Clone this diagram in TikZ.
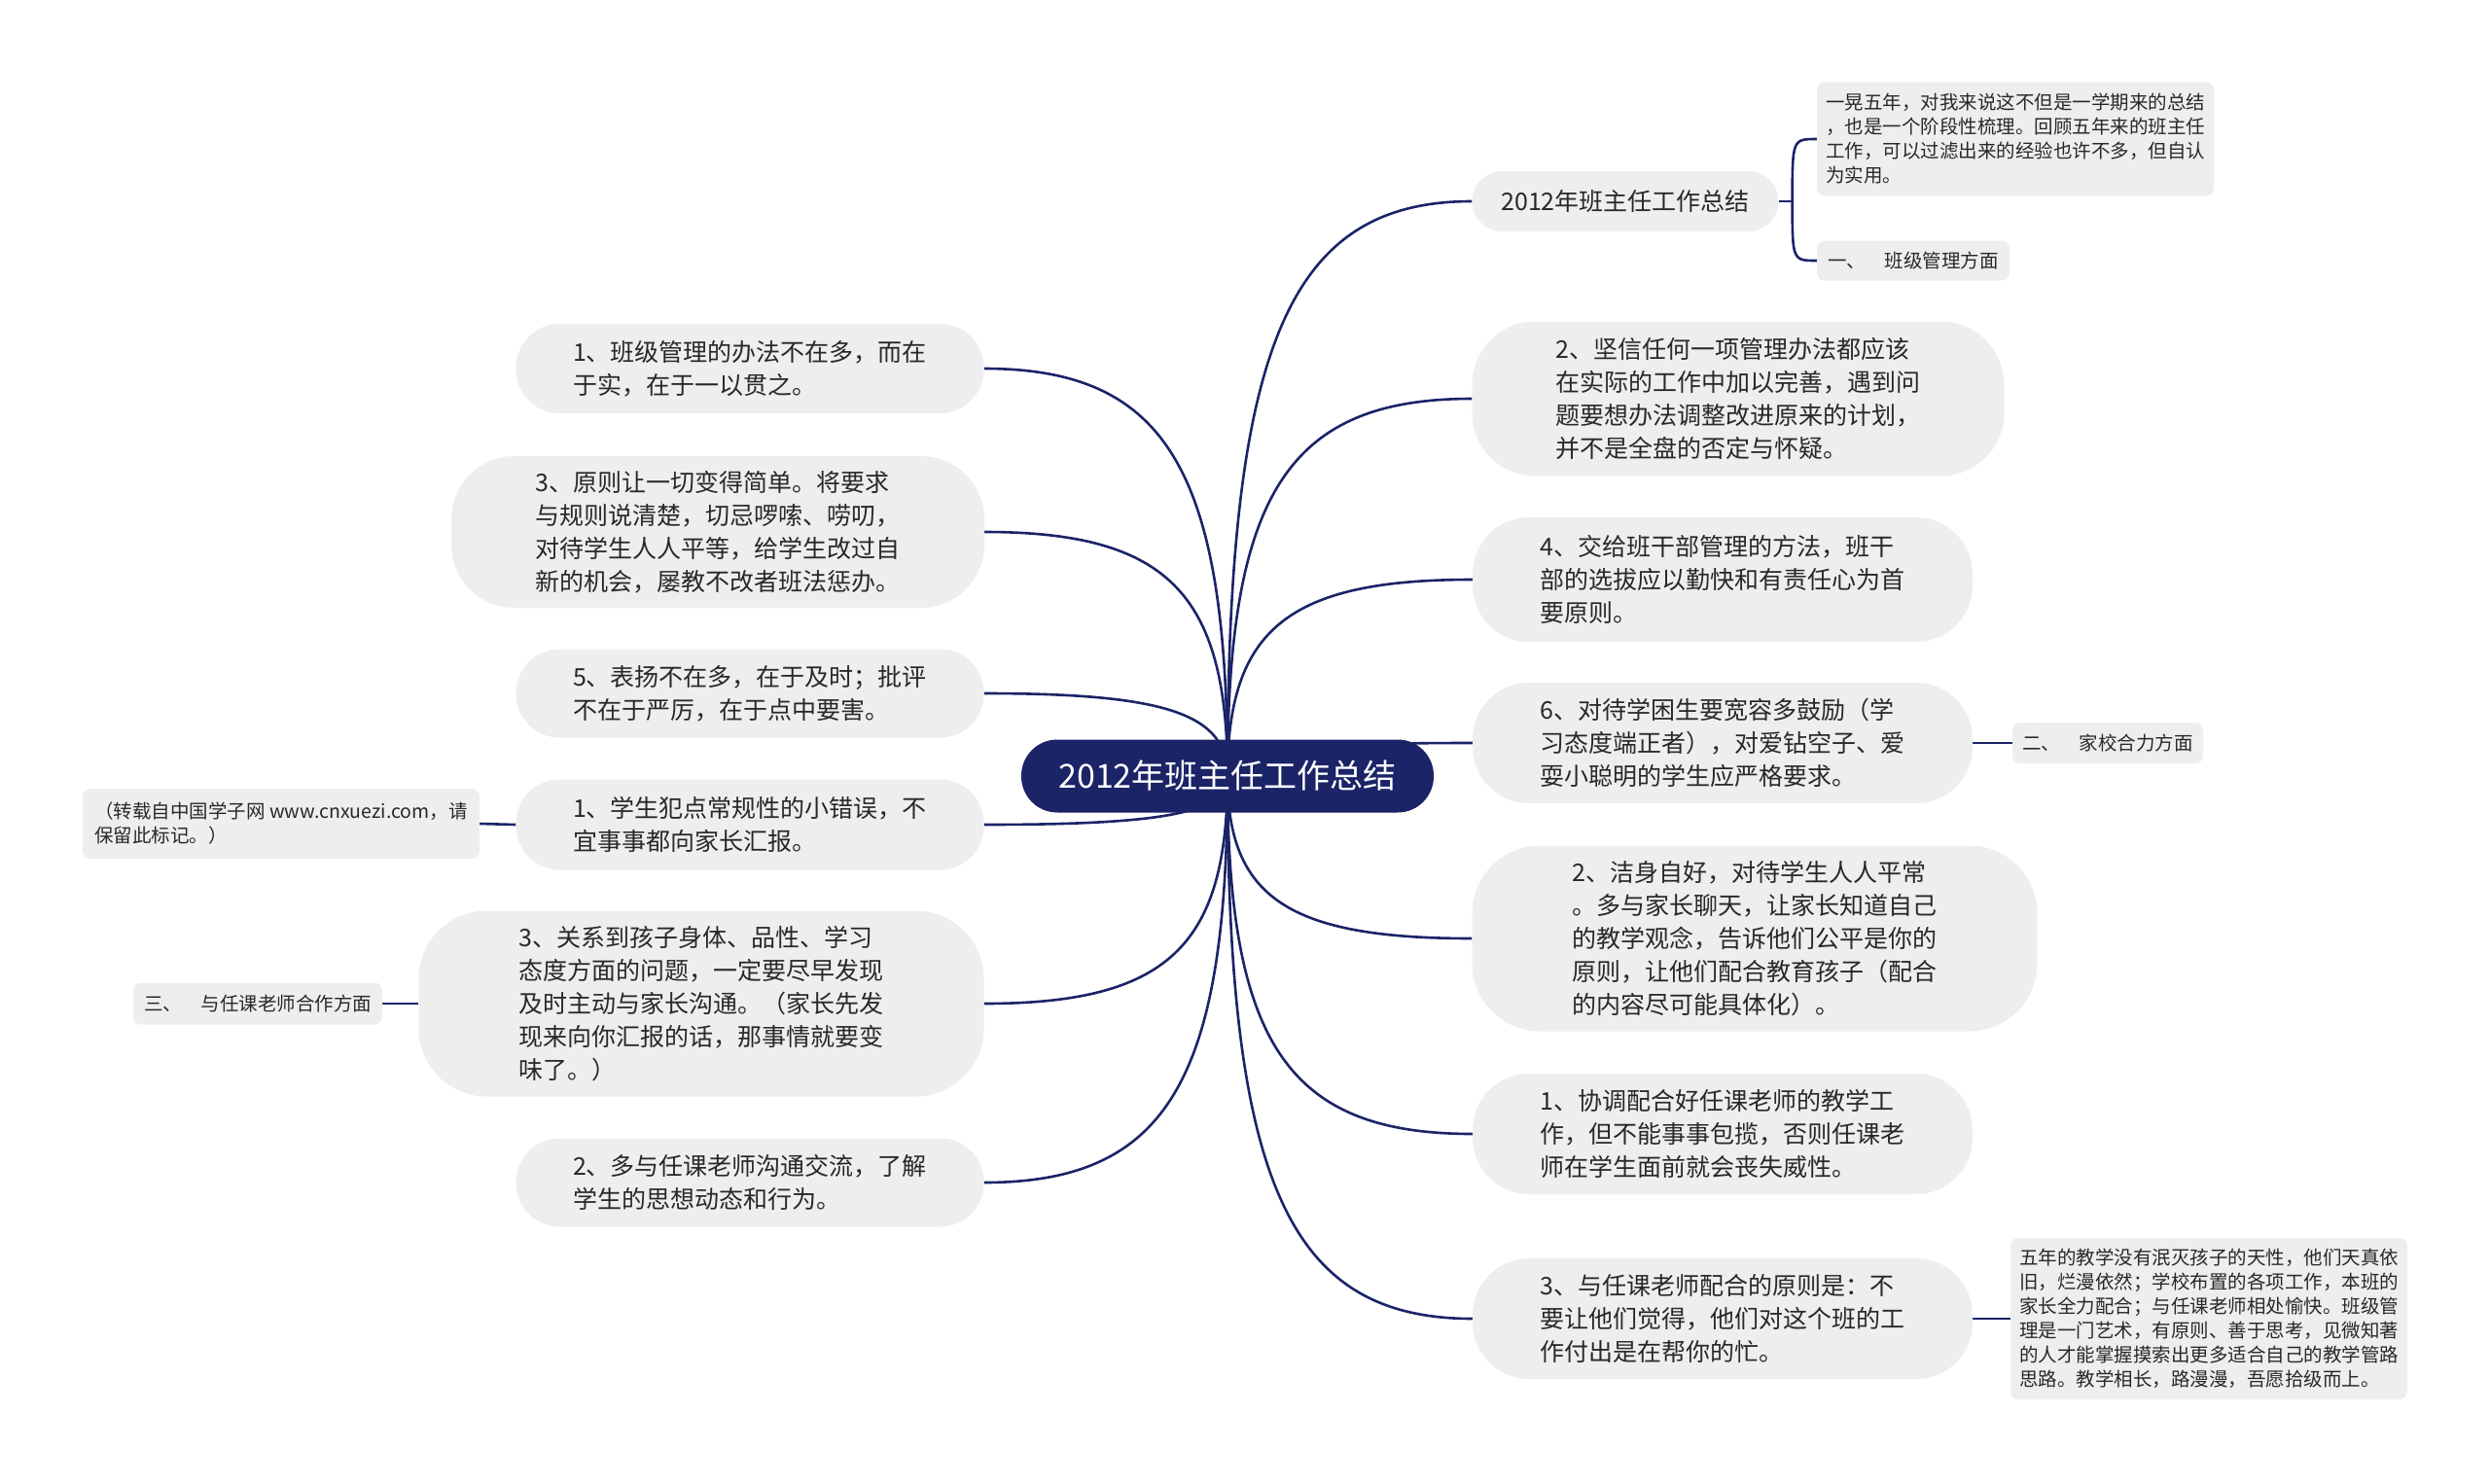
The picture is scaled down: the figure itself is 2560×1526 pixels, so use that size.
\documentclass[tikz,border=0pt]{standalone}
\usepackage{fontspec}
\setmainfont{Noto Sans CJK SC}
\usetikzlibrary{calc}
\definecolor{navy}{RGB}{27,36,103}
\definecolor{boxgray}{RGB}{238,238,238}
\definecolor{txt}{RGB}{40,40,40}
\pgfdeclarelayer{bg}
\pgfsetlayers{bg,main}
\begin{document}
\begin{tikzpicture}[x=1pt,y=-1pt,
  topic/.style={fill=boxgray, text=txt, align=left, inner sep=0pt, font=\fontsize{25}{34}\selectfont},
  pill/.style={topic, rounded corners=#1},
  small/.style={fill=boxgray, text=txt, align=left, inner sep=0pt, rounded corners=8pt, font=\fontsize{19.5}{25}\selectfont},
  root/.style={fill=navy, text=white, inner sep=0pt, rounded corners=37pt, minimum width=424pt, minimum height=75pt, font=\fontsize{34}{40}\selectfont},
  conn/.style={draw=navy, line width=2.6pt},
]
\useasboundingbox (0,0) rectangle (2560,1526);

% root
\node[root] (ctr) at (1262,798) {2012年班主任工作总结};

% right side
\node[pill=31pt, minimum width=315pt, minimum height=62pt] (R1) at (1671,207) {2012年班主任工作总结};
\node[small, minimum width=408pt, minimum height=117pt] (C1) at (2072,143) {一晃五年，对我来说这不但是一学期来的总结\\，也是一个阶段性梳理。回顾五年来的班主任\\工作，可以过滤出来的经验也许不多，但自认\\为实用。};
\node[small, minimum width=198pt, minimum height=41pt] (C2) at (1967,268) {一、\hspace{1em}班级管理方面};
\node[pill=65pt, minimum width=547pt, minimum height=159pt] (R2) at (1787,410) {2、坚信任何一项管理办法都应该\\在实际的工作中加以完善，遇到问\\题要想办法调整改进原来的计划，\\并不是全盘的否定与怀疑。};
\node[pill=58pt, minimum width=514pt, minimum height=128pt] (R3) at (1771,596) {4、交给班干部管理的方法，班干\\部的选拔应以勤快和有责任心为首\\要原则。};
\node[pill=58pt, minimum width=514pt, minimum height=124pt] (R4) at (1771,764) {6、对待学困生要宽容多鼓励（学\\习态度端正者），对爱钻空子、爱\\耍小聪明的学生应严格要求。};
\node[small, minimum width=196pt, minimum height=42pt] (R4c) at (2167,764) {二、\hspace{1em}家校合力方面};
\node[pill=70pt, minimum width=581pt, minimum height=191pt] (R5) at (1804,965) {2、洁身自好，对待学生人人平常\\。多与家长聊天，让家长知道自己\\的教学观念，告诉他们公平是你的\\原则，让他们配合教育孩子（配合\\的内容尽可能具体化）。};
\node[pill=58pt, minimum width=514pt, minimum height=124pt] (R6) at (1771,1166) {1、协调配合好任课老师的教学工\\作，但不能事事包揽，否则任课老\\师在学生面前就会丧失威性。};
\node[pill=58pt, minimum width=514pt, minimum height=124pt] (R7) at (1771,1356) {3、与任课老师配合的原则是：不\\要让他们觉得，他们对这个班的工\\作付出是在帮你的忙。};
\node[small, minimum width=408pt, minimum height=166pt] (R7c) at (2271,1356) {五年的教学没有泯灭孩子的天性，他们天真依\\旧，烂漫依然；学校布置的各项工作，本班的\\家长全力配合；与任课老师相处愉快。班级管\\理是一门艺术，有原则、善于思考，见微知著\\的人才能掌握摸索出更多适合自己的教学管路\\思路。教学相长，路漫漫，吾愿拾级而上。};

% left side
\node[pill=45pt, minimum width=481pt, minimum height=92pt] (L1) at (771,379) {1、班级管理的办法不在多，而在\\于实，在于一以贯之。};
\node[pill=65pt, minimum width=548pt, minimum height=156pt] (L2) at (738,547) {3、原则让一切变得简单。将要求\\与规则说清楚，切忌啰嗦、唠叨，\\对待学生人人平等，给学生改过自\\新的机会，屡教不改者班法惩办。};
\node[pill=45pt, minimum width=481pt, minimum height=91pt] (L3) at (771,713) {5、表扬不在多，在于及时；批评\\不在于严厉，在于点中要害。};
\node[pill=45pt, minimum width=481pt, minimum height=93pt] (L4) at (771,848) {1、学生犯点常规性的小错误，不\\宜事事都向家长汇报。};
\node[small, minimum width=408pt, minimum height=72pt] (L4c) at (289,847) {（转载自中国学子网 www.cnxuezi.com，请\\保留此标记。）};
\node[pill=70pt, minimum width=581pt, minimum height=191pt] (L5) at (721,1032) {3、关系到孩子身体、品性、学习\\态度方面的问题，一定要尽早发现\\及时主动与家长沟通。（家长先发\\现来向你汇报的话，那事情就要变\\味了。）};
\node[small, minimum width=256pt, minimum height=43pt] (L5c) at (265,1032) {三、\hspace{1em}与任课老师合作方面};
\node[pill=45pt, minimum width=481pt, minimum height=91pt] (L6) at (771,1216) {2、多与任课老师沟通交流，了解\\学生的思想动态和行为。};

\begin{pgfonlayer}{bg}
\fill[white] (0,0) rectangle (2560,1526);
\foreach \n in {R1,R2,R3,R4,R5,R6,R7}{
  \coordinate (k) at (ctr.center |- \n.west);
  \draw[conn] (ctr.center) .. controls ($(ctr.center)!0.75!(k)$) and ($(\n.west)!0.75!(k)$) .. (\n.west);
}
\foreach \n in {L1,L2,L3,L4,L5,L6}{
  \coordinate (k) at (ctr.center |- \n.east);
  \draw[conn] (ctr.center) .. controls ($(ctr.center)!0.75!(k)$) and ($(\n.east)!0.75!(k)$) .. (\n.east);
}
\coordinate (j1) at ($(R1.east)+(14,0)$);
\draw[conn] (R1.east) -- (j1);
\draw[conn] (j1) .. controls (j1 |- C1.west) .. (C1.west);
\draw[conn] (j1) .. controls (j1 |- C2.west) .. (C2.west);
\draw[conn] (R4.east) -- (R4c.west);
\draw[conn] (R7.east) -- (R7c.west);
\draw[conn] (L4.west) -- (L4c.east);
\draw[conn] (L5.west) -- (L5c.east);
\end{pgfonlayer}
\end{tikzpicture}
\end{document}
